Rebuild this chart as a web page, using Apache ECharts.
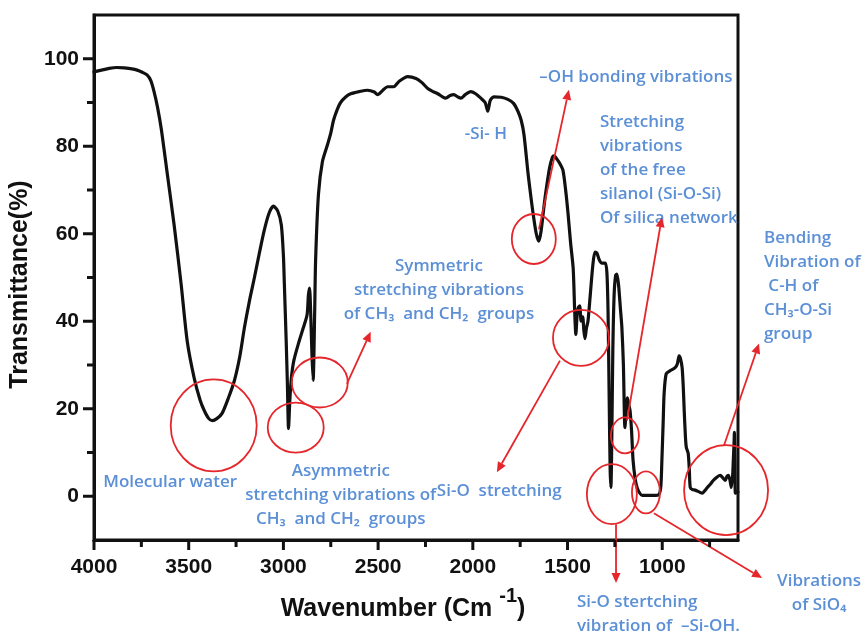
<!DOCTYPE html>
<html>
<head>
<meta charset="utf-8">
<script src="https://cdn.jsdelivr.net/npm/echarts@6/dist/echarts.min.js"></script>
<style>
  html, body { margin: 0; padding: 0; background: #ffffff; }
  #chart { width: 868px; height: 637px; }
</style>
</head>
<body>
<div id="chart"></div>
<script>
// FTIR spectrum: wavenumber (cm-1) against transmittance (%)
const wavenumber = [
  4000, 3960, 3920, 3880, 3840, 3800, 3772, 3745, 3720, 3700, 3683, 3665, 3645, 3614, 3577, 3540,
  3508, 3471, 3440, 3418, 3395, 3376, 3350, 3323, 3290, 3259, 3230, 3206, 3180, 3153, 3125, 3100,
  3075, 3053, 3030, 3011, 3000, 2995, 2985, 2979, 2973, 2966, 2958, 2945, 2920, 2895, 2875, 2868,
  2862, 2856, 2849, 2843, 2835, 2830, 2815, 2794, 2767, 2750, 2735, 2715, 2698, 2670, 2645, 2600,
  2556, 2520, 2503, 2475, 2450, 2418, 2390, 2344, 2300, 2270, 2238, 2210, 2185, 2160, 2143, 2120,
  2100, 2080, 2063, 2040, 2011, 1985, 1958, 1935, 1921, 1908, 1889, 1850, 1815, 1785, 1762, 1745,
  1730, 1709, 1695, 1683, 1665, 1651, 1640, 1625, 1614, 1595, 1580, 1571, 1555, 1540, 1524, 1510,
  1497, 1484, 1470, 1462, 1456, 1450, 1444, 1436, 1428, 1420, 1414, 1408, 1400, 1392, 1380, 1366,
  1355, 1345, 1332, 1318, 1300, 1292, 1286, 1280, 1275, 1271, 1266, 1261, 1254, 1246, 1239, 1230,
  1221, 1213, 1205, 1197, 1191, 1184, 1177, 1170, 1162, 1154, 1143, 1133, 1120, 1106, 1060, 1021,
  1008, 1002, 995, 990, 979, 958, 932, 920, 911, 904, 895, 889, 884, 878, 873, 863,
  857, 852, 840, 826, 805, 789, 775, 762, 745, 731, 710, 694, 680, 667, 659, 651,
  643, 635, 628, 625, 621, 619, 616, 614, 605, 600
];
const transmittance = [
  97.0, 97.4, 97.8, 98.0, 97.9, 97.7, 97.4, 96.9, 96.3, 95.0, 92.5, 89.0, 84.0, 74.0, 62.0, 48.5,
  35.5, 27.0, 22.0, 19.6, 17.8, 17.3, 17.8, 19.0, 22.5, 26.4, 32.0, 38.5, 44.5, 50.0, 56.0, 61.0,
  64.8, 66.3, 65.2, 62.0, 55.0, 48.5, 35.0, 25.7, 15.5, 22.0, 27.0, 31.0, 35.0, 38.5, 41.5, 46.0,
  47.6, 42.0, 32.0, 26.5, 42.0, 54.0, 69.0, 76.5, 80.4, 83.0, 86.0, 88.5, 90.0, 91.3, 92.0, 92.5,
  92.8, 92.4, 91.8, 92.8, 93.6, 93.6, 94.8, 95.9, 95.5, 94.6, 93.2, 92.5, 92.0, 91.3, 91.0, 91.6,
  91.8, 91.3, 91.0, 91.8, 92.5, 92.0, 91.0, 90.0, 88.0, 90.5, 91.3, 91.2, 90.7, 89.8, 88.0, 86.0,
  82.7, 74.0, 69.0, 65.0, 60.0, 58.3, 60.5, 66.0, 69.7, 75.0, 77.5, 77.8, 77.0, 76.0, 74.5, 70.0,
  64.5, 58.0, 52.0, 42.0, 37.0, 41.0, 43.0, 43.5, 40.0, 41.0, 38.0, 36.0, 38.5, 40.0, 46.0, 53.0,
  55.8, 55.6, 54.0, 53.3, 53.3, 51.0, 42.0, 22.0, 6.0, 2.0, 14.0, 33.0, 46.0, 50.5, 50.8, 48.0,
  43.0, 38.5, 30.0, 15.7, 19.0, 22.5, 21.0, 19.6, 15.0, 8.2, 4.0, 2.0, 0.8, 0.2, 0.2, 0.3,
  2.0, 8.0, 17.0, 23.5, 28.0, 28.7, 29.4, 30.3, 32.1, 31.5, 29.4, 25.0, 19.6, 14.0, 11.2, 9.8,
  6.0, 2.0, 1.5, 1.4, 1.0, 0.7, 1.3, 2.0, 2.8, 3.6, 4.4, 4.8, 4.2, 3.6, 4.5, 4.8,
  3.8, 2.0, 5.0, 8.0, 12.0, 14.6, 8.0, 0.7, 1.0, 1.0
];

const xMajorTicks = [4000, 3500, 3000, 2500, 2000, 1500, 1000];
const xMinorTicks = [3750, 3250, 2750, 2250, 1750, 1250, 750];
const yMajorTicks = [0, 20, 40, 60, 80, 100];
const yMinorTicks = [10, 30, 50, 70, 90];

// Band assignments, anchored in (wavenumber, transmittance) units
const bandLabels = [
  { text: 'Molecular water', at: [3598, 3.2], align: 'center' },
  { text: 'Asymmetric\nstretching vibrations of\nCH\u2083  and CH\u2082  groups', at: [2697, 0.3], align: 'center' },
  { text: 'Symmetric\nstretching vibrations\nof CH\u2083  and CH\u2082  groups', at: [2179, 47.2], align: 'center' },
  { text: '-Si- H', at: [1931, 82.7], align: 'center' },
  { text: '\u2013OH bonding vibrations', at: [1139, 95.7], align: 'center' },
  { text: 'Stretching\nvibrations\nof the free\nsilanol (Si-O-Si)\nOf silica network', at: [1329, 74.6], align: 'left' },
  { text: 'Bending\nVibration of\n C-H of\nCH\u2083-O-Si\ngroup', at: [463, 48.1], align: 'left' },
  { text: 'Si-O  stretching', at: [2190, 1.1], align: 'left' },
  { text: 'Si-O stertching\nvibration of  \u2013Si-OH.', at: [1450, -26.9], align: 'left' },
  { text: 'Vibrations\nof SiO\u2084', at: [172, -22.2], align: 'center' }
];
const bandCircles = [
  { at: [3368, 16.2], rx: 43, ry: 46 },
  { at: [2935, 15.7], rx: 28, ry: 25 },
  { at: [2808, 26.0], rx: 28, ry: 25 },
  { at: [1678, 58.8], rx: 22, ry: 25 },
  { at: [1429, 36.2], rx: 28, ry: 28 },
  { at: [1197, 13.9], rx: 14, ry: 18 },
  { at: [1266, 0.5], rx: 25, ry: 30 },
  { at: [1086, 0.9], rx: 14, ry: 21 },
  { at: [663, 1.4], rx: 42, ry: 45 }
];
const bandArrows = [
  { from: [2665, 25.7], to: [2539, 37.6] },
  { from: [1651, 61.0], to: [1493, 92.9] },
  { from: [1186, 17.3], to: [1002, 63.8] },
  { from: [1540, 31.0], to: [1873, 5.5] },
  { from: [1244, -6.4], to: [1244, -19.8] },
  { from: [1044, -3.9], to: [473, -18.7] },
  { from: [674, 11.6], to: [489, 34.9] }
];

const INK = '#111111';
const NOTE_BLUE = '#5b8fd6';
const NOTE_RED = '#e5262b';
const AXIS_FONT = '"Liberation Sans", Arial, Helvetica, sans-serif';
const NOTE_FONT = '"Open Sans", "Noto Sans", sans-serif';
const X_MIN = 600, X_MAX = 4000, Y_MIN = -10, Y_MAX = 110;

const chart = echarts.init(document.getElementById('chart'), null, { renderer: 'canvas' });

const spectrum = wavenumber.map((w, i) => [w, transmittance[i]]);
const plainNumber = v => String(v);

chart.setOption({
  backgroundColor: '#ffffff',
  animation: false,
  grid: {
    left: 94, right: 130, top: 15, bottom: 97,
    containLabel: false, outerBoundsMode: 'none',
    show: true, borderColor: INK, borderWidth: 3, backgroundColor: 'transparent'
  },
  xAxis: {
    type: 'value', min: X_MIN, max: X_MAX, inverse: true, position: 'bottom',
    splitLine: { show: false },
    name: '{a|Wavenumber (Cm }{s|-1}{a|)}',
    nameLocation: 'middle',
    nameGap: 46,
    nameTextStyle: {
      padding: [0, 26, 0, 0],
      rich: {
        a: { fontFamily: AXIS_FONT, fontWeight: 'bold', fontSize: 25, color: INK, lineHeight: 36, verticalAlign: 'bottom' },
        s: { fontFamily: AXIS_FONT, fontWeight: 'bold', fontSize: 20, color: INK, lineHeight: 18, verticalAlign: 'top' }
      }
    },
    axisLine: { show: true, onZero: false, lineStyle: { color: INK, width: 3 } },
    axisTick: { show: false },
    axisLabel: {
      show: true, customValues: xMajorTicks, margin: 17, formatter: plainNumber,
      fontFamily: AXIS_FONT, fontWeight: 'bold', fontSize: 21, color: INK
    }
  },
  yAxis: {
    type: 'value', min: Y_MIN, max: Y_MAX, position: 'left',
    splitLine: { show: false },
    name: 'Transmittance(%)',
    nameLocation: 'middle',
    nameGap: 57,
    nameTextStyle: { fontFamily: AXIS_FONT, fontWeight: 'bold', fontSize: 25, color: INK, padding: [0, 14, 0, 0] },
    axisLine: { show: true, onZero: false, lineStyle: { color: INK, width: 3 } },
    axisTick: { show: false },
    axisLabel: {
      show: true, customValues: yMajorTicks, margin: 15, formatter: plainNumber,
      fontFamily: AXIS_FONT, fontWeight: 'bold', fontSize: 21, color: INK
    }
  },
  series: [{
    type: 'line',
    data: spectrum,
    showSymbol: false,
    smooth: 0.25,
    clip: true,
    lineStyle: { color: INK, width: 3.2, join: 'round', cap: 'round' },
    z: 3
  }]
});

function toPx(p) {
  return chart.convertToPixel({ xAxisIndex: 0, yAxisIndex: 0 }, p);
}

const notes = [];

// Tick marks pointing out of the frame: long at labelled values, short between
function tickMark(p, dx, dy) {
  return {
    type: 'line', silent: true, z: 120,
    shape: { x1: p[0], y1: p[1], x2: p[0] + dx, y2: p[1] + dy },
    style: { stroke: INK, lineWidth: 3 }
  };
}
xMajorTicks.forEach(v => notes.push(tickMark(toPx([v, Y_MIN]), 0, 10)));
xMinorTicks.forEach(v => notes.push(tickMark(toPx([v, Y_MIN]), 0, 7)));
yMajorTicks.forEach(v => notes.push(tickMark(toPx([X_MAX, v]), -11, 0)));
yMinorTicks.forEach(v => notes.push(tickMark(toPx([X_MAX, v]), -7, 0)));

// Band notes: blue text, red rings and arrows
function arrowElements(a) {
  const p1 = toPx(a.from);
  const p2 = toPx(a.to);
  const dx = p2[0] - p1[0];
  const dy = p2[1] - p1[1];
  const len = Math.hypot(dx, dy) || 1;
  const ux = dx / len, uy = dy / len;
  const head = 10, half = 4.5;
  const bx = p2[0] - ux * head, by = p2[1] - uy * head;
  return [
    {
      type: 'line', silent: true, z: 110,
      shape: { x1: p1[0], y1: p1[1], x2: bx, y2: by },
      style: { stroke: NOTE_RED, lineWidth: 1.8 }
    },
    {
      type: 'polygon', silent: true, z: 110,
      shape: { points: [[p2[0], p2[1]], [bx - uy * half, by + ux * half], [bx + uy * half, by - ux * half]] },
      style: { fill: NOTE_RED }
    }
  ];
}

bandLabels.forEach(l => {
  const p = toPx(l.at);
  notes.push({
    type: 'text', silent: true, z: 100, x: p[0], y: p[1],
    style: {
      text: l.text, fill: NOTE_BLUE, align: l.align, verticalAlign: 'middle',
      fontFamily: NOTE_FONT, fontWeight: 600, fontSize: 17, lineHeight: 24
    }
  });
});
bandCircles.forEach(c => {
  const p = toPx(c.at);
  notes.push({
    type: 'ellipse', silent: true, z: 105,
    shape: { cx: p[0], cy: p[1], rx: c.rx, ry: c.ry },
    style: { fill: 'none', stroke: NOTE_RED, lineWidth: 1.8 }
  });
});
bandArrows.forEach(a => { notes.push.apply(notes, arrowElements(a)); });

chart.setOption({ graphic: { elements: notes } });
</script>
</body>
</html>
